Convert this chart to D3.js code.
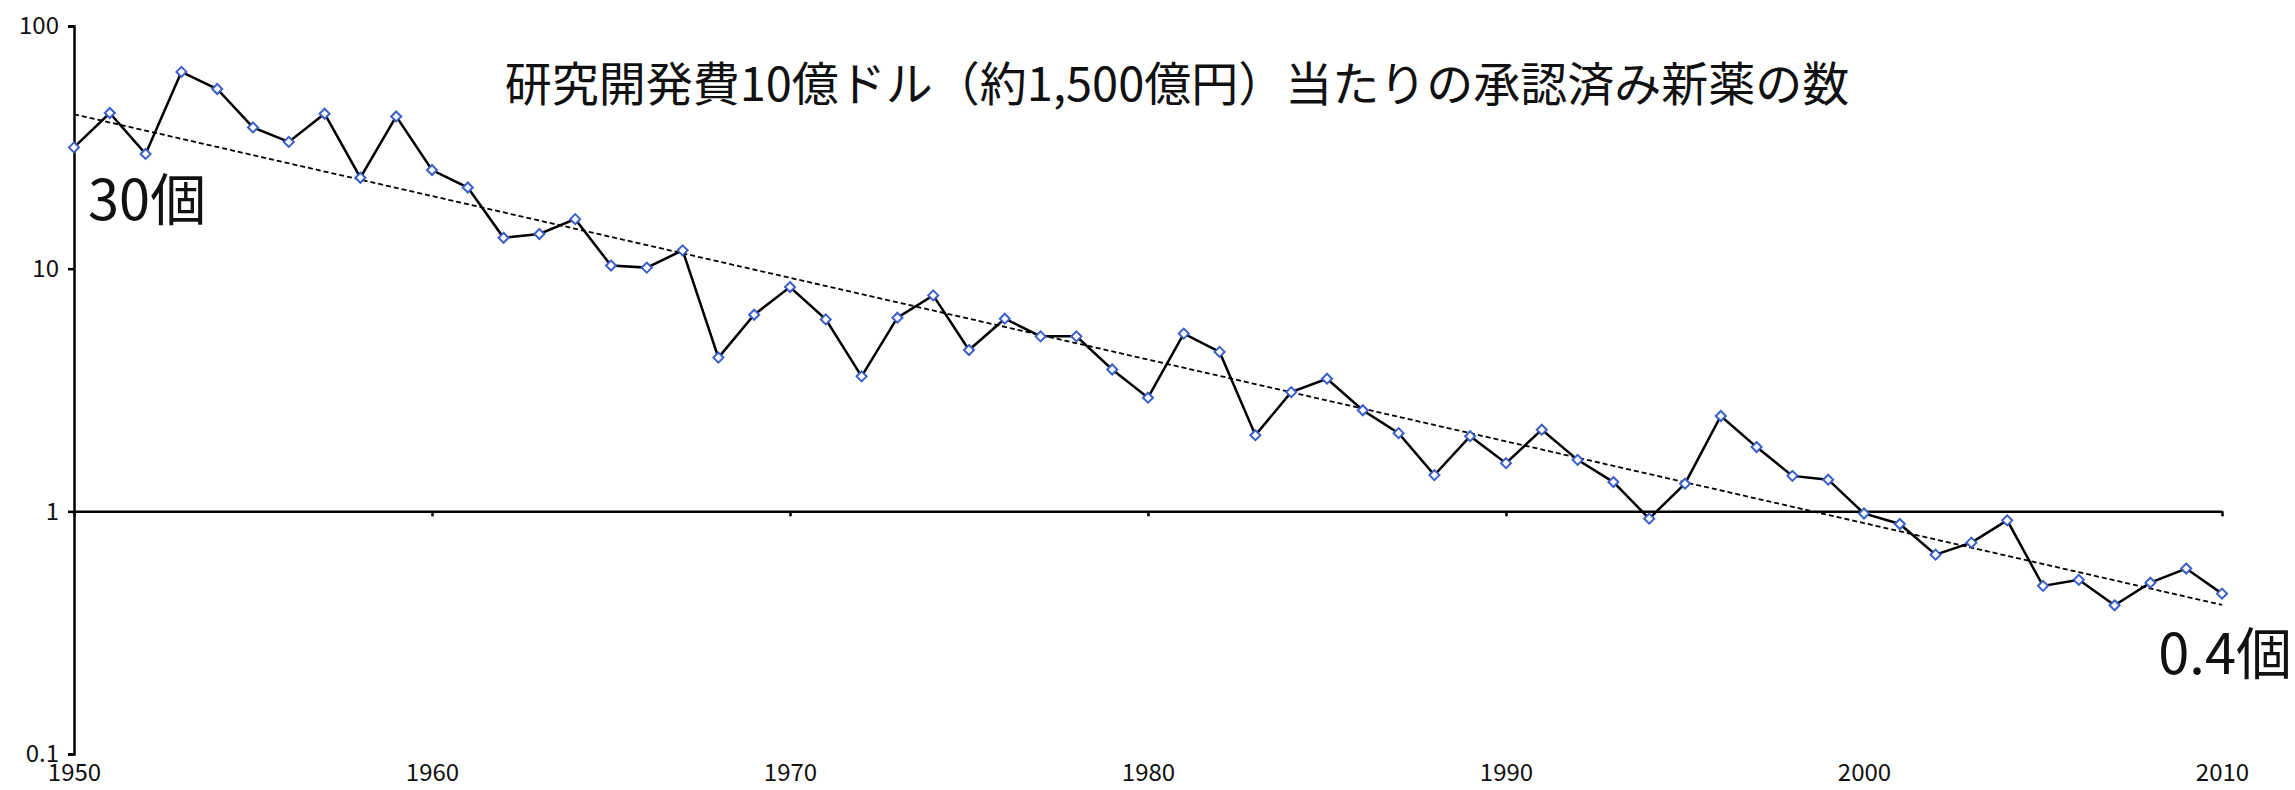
<!DOCTYPE html>
<html>
<head>
<meta charset="utf-8">
<script src="https://cdn.jsdelivr.net/npm/d3@7"></script>
<style>
  body { margin: 0; background: #fff; }
  svg text { font-family: "Noto Sans CJK JP", "Noto Sans", sans-serif; fill: #111; }
</style>
</head>
<body>
<script>
const title = "研究開発費10億ドル（約1,500億円）当たりの承認済み新薬の数";

// years on the x axis
var years = d3.range(1950, 2011);
// approved new drugs per $1bn R&D
var drugs = [
  31.6, 43.8, 29.7, 64.7, 55.0, 38.2, 33.3, 43.5, 23.7, 42.4,
  25.5, 21.6, 13.4, 13.9, 16.0, 10.3, 10.1, 11.9, 4.3, 6.46,
  8.4, 6.18, 3.6, 6.28, 7.76, 4.62, 6.22, 5.26, 5.26, 3.84,
  2.94, 5.4, 4.54, 2.06, 3.1, 3.52, 2.61, 2.1, 1.41, 2.04,
  1.58, 2.17, 1.63, 1.32, 0.933, 1.30, 2.47, 1.84, 1.40, 1.35,
  0.98, 0.887, 0.663, 0.743, 0.918, 0.493, 0.522, 0.41, 0.508, 0.581,
  0.458
];
var yTicks = [0.1, 1, 10, 100];
var xTicks = [1950, 1960, 1970, 1980, 1990, 2000, 2010];
var startLabel = "30個";
var endLabel = "0.4個";

var width = 2295;
var height = 790;

var svg = d3.select("body").append("svg")
  .attr("width", width)
  .attr("height", height);

var x = d3.scaleLinear().domain([1950, 2010]).range([74, 2222]);
var y = d3.scaleLog().domain([0.1, 100]).range([754, 26]);

// y axis
var yAxis = svg.append("g")
  .attr("transform", "translate(" + x(1950) + ",0)")
  .call(d3.axisLeft(y).tickValues(yTicks).tickFormat(d3.format("~g")).tickSize(6).tickPadding(9));
yAxis.select(".domain").attr("stroke", "#000").attr("stroke-width", 2.5);
yAxis.selectAll(".tick line").attr("stroke", "#000").attr("stroke-width", 2.5);
yAxis.selectAll("text").attr("font-size", 24).style("fill", "#111");

// horizontal axis crossing at 1
var xAxis = svg.append("g")
  .attr("transform", "translate(0," + y(1) + ")")
  .call(d3.axisBottom(x).tickValues(xTicks).tickFormat("").tickSizeInner(5).tickSizeOuter(0));
xAxis.select(".domain").attr("stroke", "#000").attr("stroke-width", 2.5);
xAxis.selectAll(".tick line").attr("stroke", "#000").attr("stroke-width", 2.5);

// x labels at the bottom
var xLabels = svg.append("g")
  .attr("transform", "translate(0," + y(0.1) + ")")
  .call(d3.axisBottom(x).tickValues(xTicks).tickFormat(d3.format("d")).tickSize(0).tickPadding(10));
xLabels.select(".domain").remove();
xLabels.selectAll("text").attr("font-size", 24).style("fill", "#111");

var pts = years.map(function(d, i) { return { year: d, v: drugs[i] }; });

// exponential trend line (least squares on log10)
var mx = d3.mean(pts, function(d) { return d.year; });
var my = d3.mean(pts, function(d) { return Math.log10(d.v); });
var sxy = d3.sum(pts, function(d) { return (d.year - mx) * (Math.log10(d.v) - my); });
var sxx = d3.sum(pts, function(d) { return (d.year - mx) * (d.year - mx); });
var slope = sxy / sxx;
var trend = [1950, 2010].map(function(t) { return { year: t, v: Math.pow(10, my + slope * (t - mx)) }; });

var line = d3.line()
  .x(function(d) { return x(d.year); })
  .y(function(d) { return y(d.v); });

svg.append("path")
  .datum(trend)
  .attr("fill", "none")
  .attr("stroke", "#000")
  .attr("stroke-width", 1.8)
  .attr("stroke-dasharray", "5,3")
  .attr("d", line);

svg.append("path")
  .datum(pts)
  .attr("fill", "none")
  .attr("stroke", "#000")
  .attr("stroke-width", 2.5)
  .attr("stroke-linejoin", "miter")
  .attr("d", line);

// diamond markers
svg.append("g").selectAll("path")
  .data(pts)
  .enter()
  .append("path")
  .attr("transform", function(d) { return "translate(" + x(d.year) + "," + y(d.v) + ")"; })
  .attr("d", "M0,-5L5,0L0,5L-5,0Z")
  .attr("fill", "#fff")
  .attr("stroke", "#3a5fc8")
  .attr("stroke-width", 2);

// title
svg.append("text")
  .attr("x", 1177)
  .attr("y", 101)
  .attr("text-anchor", "middle")
  .attr("font-size", 47)
  .text(title);

// annotations
svg.append("text")
  .attr("x", 88)
  .attr("y", 220)
  .attr("font-size", 56)
  .text(startLabel);

svg.append("text")
  .attr("x", 2292)
  .attr("y", 674)
  .attr("text-anchor", "end")
  .attr("font-size", 56)
  .text(endLabel);
</script>
</body>
</html>
